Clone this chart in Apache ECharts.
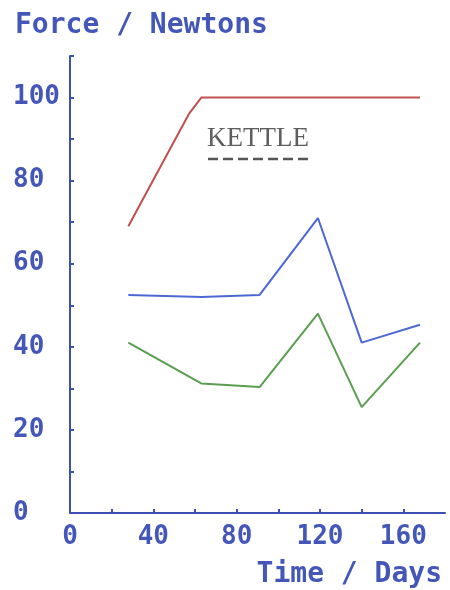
<!DOCTYPE html>
<html>
<head>
<meta charset="utf-8">
<script src="https://cdn.jsdelivr.net/npm/echarts@6/dist/echarts.min.js"></script>
<style>
html,body{margin:0;padding:0;background:#fff;}
#c{width:450px;height:590px;}
</style>
</head>
<body>
<div id="c"></div>
<script>
// ---- data ----
var kettleDays  = [28, 57, 63, 91, 119, 140, 168];
var kettleForce = [69, 96, 100, 100, 100, 100, 100];

var blueDays  = [28, 63, 91, 119, 140, 168];
var blueForce = [52.5, 52, 52.5, 71, 41, 45.3];

var greenDays  = [28, 63, 91, 119, 140, 168];
var greenForce = [41, 31.2, 30.3, 48, 25.5, 41];

var xTickLabels = [0, 40, 80, 120, 160];
var yTickLabels = [0, 20, 40, 60, 80, 100];

var titleText = 'Force / Newtons';
var xAxisText = 'Time / Days';
var legendText = 'KETTLE';

function pairs(xs, ys){ return xs.map(function(x,i){ return [x, ys[i]]; }); }

var axisBlue = '#3d4fb0';
var textBlue = '#4457b8';
var plotFont = 'DejaVu Sans Mono';

var chart = echarts.init(document.getElementById('c'), null, {renderer:'canvas'});
chart.setOption({
  backgroundColor: '#ffffff',
  animation: false,
  title: [
    { text: titleText, left: 10, top: 7,
      textStyle: { fontFamily: plotFont, fontWeight: 'bold', fontSize: 28, color: textBlue } },
    { text: xAxisText, right: 3, top: 556,
      textStyle: { fontFamily: plotFont, fontWeight: 'bold', fontSize: 28, color: textBlue } }
  ],
  grid: { left: 70, right: 5, top: 56, bottom: 77, containLabel: false },
  xAxis: {
    type: 'value', min: 0, max: 180, interval: 20,
    axisLine: { show: true, lineStyle: { color: axisBlue, width: 2 } },
    axisTick: { show: true, inside: true, length: 4, lineStyle: { color: axisBlue, width: 2 } },
    splitLine: { show: false },
    axisLabel: {
      margin: 11, fontFamily: plotFont, fontWeight: 'bold', fontSize: 26, color: textBlue,
      showMaxLabel: false,
      formatter: function(v){ return xTickLabels.indexOf(v) >= 0 ? String(v) : ''; }
    }
  },
  yAxis: {
    type: 'value', min: 0, max: 110, interval: 10,
    axisLine: { show: true, lineStyle: { color: axisBlue, width: 2 } },
    axisTick: { show: true, inside: true, length: 4, lineStyle: { color: axisBlue, width: 2 } },
    splitLine: { show: false },
    axisLabel: {
      margin: 57, align: 'left', fontFamily: plotFont, fontWeight: 'bold', fontSize: 26, color: textBlue,
      formatter: function(v){ return yTickLabels.indexOf(v) >= 0 ? String(v) : ''; }
    }
  },
  series: [
    { name: legendText, type: 'line', data: pairs(kettleDays, kettleForce), showSymbol: false,
      lineStyle: { color: '#c0504f', width: 2 }, itemStyle: { color: '#c0504f' } },
    { name: 'Series 2', type: 'line', data: pairs(blueDays, blueForce), showSymbol: false,
      lineStyle: { color: '#4d68d4', width: 2 }, itemStyle: { color: '#4d68d4' } },
    { name: 'Series 3', type: 'line', data: pairs(greenDays, greenForce), showSymbol: false,
      lineStyle: { color: '#5a9e50', width: 2 }, itemStyle: { color: '#5a9e50' } }
  ],
  graphic: [
    { type: 'text', left: 207, top: 125,
      style: { text: legendText, font: '27px "Liberation Serif"', fill: '#5e5e5e' } },
    { type: 'line', shape: { x1: 208, y1: 159, x2: 310, y2: 159 },
      style: { stroke: '#555555', lineWidth: 2.5, lineDash: [10, 5] } }
  ]
});
</script>
</body>
</html>
